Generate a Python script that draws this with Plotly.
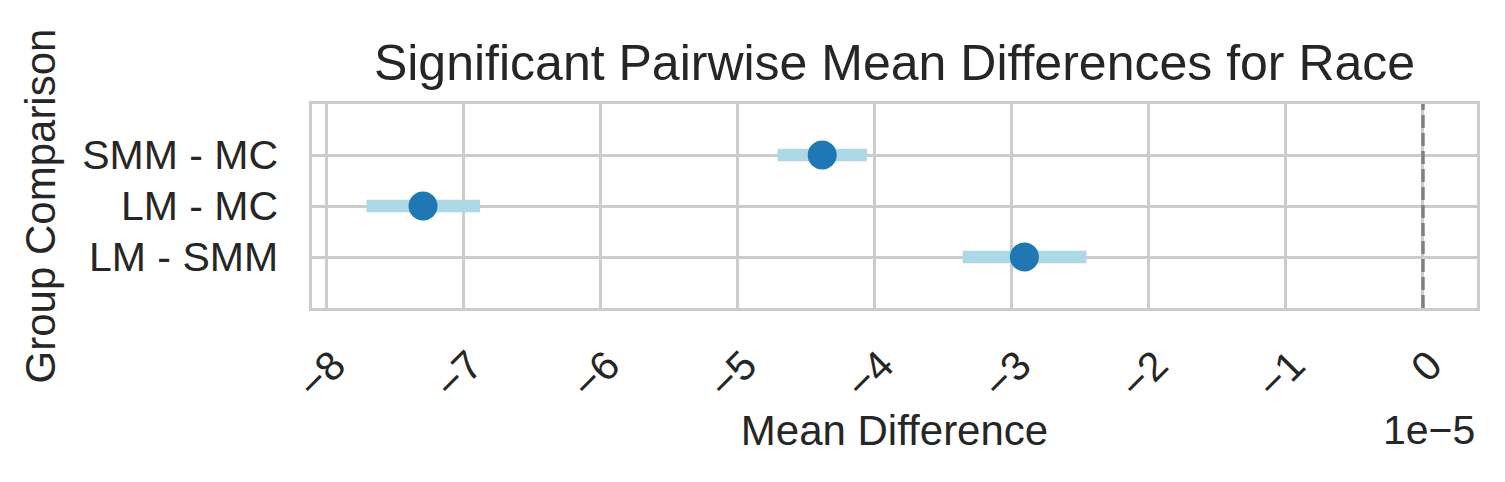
import plotly.graph_objects as go

# ---- data (mean differences and 95% CI, in units of 1e-5) ----
comparisons = ["SMM - MC", "LM - MC", "LM - SMM"]
mean_diff = [-4.383, -7.295, -2.908]
ci_lower = [-4.708, -7.708, -3.358]
ci_upper = [-4.056, -6.879, -2.455]
x_ticks = [-8, -7, -6, -5, -4, -3, -2, -1, 0]
ref_line = 0
scale_label = "1e\u22125"

TXT = "#262626"
GRID = "#cccccc"
FONT = "Liberation Sans, Arial, sans-serif"

err_plus = [u - m for u, m in zip(ci_upper, mean_diff)]
err_minus = [m - l for m, l in zip(mean_diff, ci_lower)]

fig = go.Figure()
fig.add_trace(go.Scatter(
    x=mean_diff, y=comparisons, mode="markers",
    marker=dict(size=2, opacity=0),
    error_x=dict(type="data", array=err_plus, arrayminus=err_minus,
                 color="#add8e6", thickness=12.7, width=0),
    showlegend=False, hoverinfo="skip",
))
fig.add_trace(go.Scatter(
    x=mean_diff, y=comparisons, mode="markers",
    marker=dict(size=29, color="#1f77b4", line=dict(width=0)),
    showlegend=False,
))

fig.add_shape(type="line", x0=ref_line, x1=ref_line, xref="x",
              y0=0, y1=1, yref="paper",
              line=dict(color="#808080", width=3.5, dash="13px,5px"))

fig.update_layout(
    width=1505, height=482,
    margin=dict(l=312, r=28, t=104, b=174),
    paper_bgcolor="white", plot_bgcolor="white",
    font=dict(family=FONT, color=TXT, size=41),
    title=dict(text="Significant Pairwise Mean Differences for Race",
               x=(312 + 1477) / 2 / 1505, xanchor="center",
               y=1 - 62 / 482, yanchor="middle",
               font=dict(size=50, color=TXT)),
)
fig.update_xaxes(
    range=[-8.105, 0.394], tickvals=x_ticks, tickangle=-45,
    showgrid=True, gridcolor=GRID, gridwidth=2.5, zeroline=False,
    showline=True, linecolor=GRID, linewidth=2.5, mirror=True,
    ticks="", ticklabelstandoff=14, ticklabelshift=7, automargin=False,
    tickfont=dict(size=41, color=TXT),
    title=dict(text="Mean Difference", font=dict(size=42, color=TXT), standoff=7),
)
fig.update_yaxes(
    type="category", categoryarray=comparisons, range=[3, -1],
    showgrid=True, gridcolor=GRID, gridwidth=2.5, zeroline=False,
    showline=True, linecolor=GRID, linewidth=2.5, mirror=True,
    ticks="", ticklabelstandoff=23, automargin=False,
    tickfont=dict(size=41, color=TXT),
    title=dict(text="Group Comparison", font=dict(size=42, color=TXT), standoff=14),
)
fig.add_annotation(text=scale_label, xref="paper", yref="paper",
                   x=1, xanchor="right", y=(308 - 430) / 204, yanchor="middle",
                   showarrow=False, font=dict(size=41, color=TXT))

fig.write_html("out.html", config={"displayModeBar": False},
               post_script="document.body.style.margin='0';document.body.style.overflow='hidden';")
